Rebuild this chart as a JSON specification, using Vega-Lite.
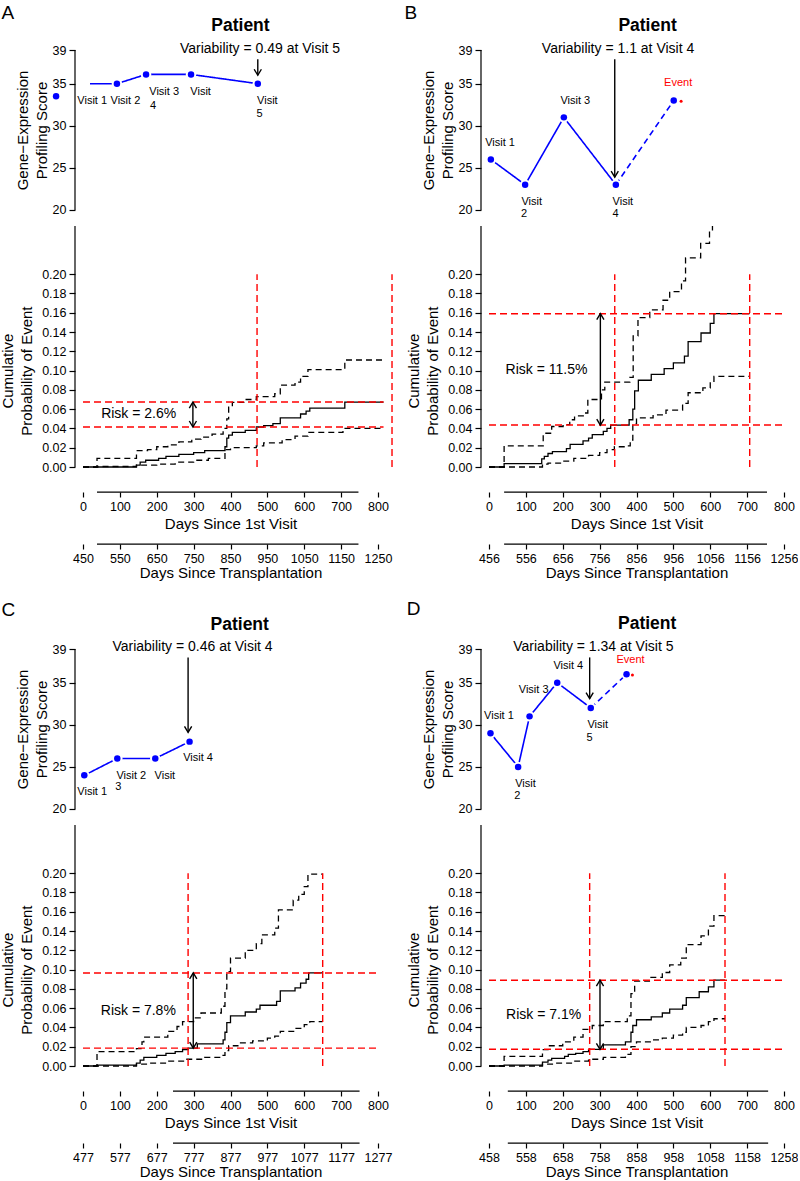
{
"$schema":"https://vega.github.io/schema/vega-lite/v6.json",
"background":"white",
"padding":{"left":0,"top":4,"right":0,"bottom":0},
"config":{"font":"Liberation Sans","view":{"stroke":null},
 "axis":{"grid":false,"domainColor":"black","tickColor":"black","labelColor":"black","titleColor":"black","labelFontSize":12.5,"titleFontSize":15,"titleFontWeight":"normal","tickSize":5,"tickWidth":1.2,"domainWidth":1.2,"labelPadding":2,"labelOverlap":false,"labelFlush":false,"labelBound":false},
 "text":{"color":"black"}},
"datasets":{
"sA":[{"d":0,"p":0,"s":"est"},{"d":145,"p":0.002,"s":"est"},{"d":155,"p":0.005,"s":"est"},{"d":170,"p":0.007,"s":"est"},{"d":205,"p":0.009,"s":"est"},{"d":225,"p":0.011,"s":"est"},{"d":260,"p":0.013,"s":"est"},{"d":300,"p":0.015,"s":"est"},{"d":330,"p":0.017,"s":"est"},{"d":385,"p":0.021,"s":"est"},{"d":390,"p":0.03,"s":"est"},{"d":395,"p":0.033,"s":"est"},{"d":405,"p":0.036,"s":"est"},{"d":440,"p":0.038,"s":"est"},{"d":470,"p":0.0415,"s":"est"},{"d":490,"p":0.043,"s":"est"},{"d":515,"p":0.045,"s":"est"},{"d":535,"p":0.051,"s":"est"},{"d":590,"p":0.055,"s":"est"},{"d":605,"p":0.058,"s":"est"},{"d":615,"p":0.061,"s":"est"},{"d":710,"p":0.0674,"s":"est"},{"d":815,"p":0.0674,"s":"est"},
 {"d":0,"p":0,"s":"hi"},{"d":38,"p":0.009,"s":"hi"},{"d":145,"p":0.017,"s":"hi"},{"d":175,"p":0.018,"s":"hi"},{"d":200,"p":0.021,"s":"hi"},{"d":230,"p":0.023,"s":"hi"},{"d":260,"p":0.026,"s":"hi"},{"d":295,"p":0.029,"s":"hi"},{"d":320,"p":0.031,"s":"hi"},{"d":350,"p":0.034,"s":"hi"},{"d":380,"p":0.04,"s":"hi"},{"d":390,"p":0.05,"s":"hi"},{"d":395,"p":0.062,"s":"hi"},{"d":405,"p":0.067,"s":"hi"},{"d":440,"p":0.07,"s":"hi"},{"d":470,"p":0.073,"s":"hi"},{"d":520,"p":0.076,"s":"hi"},{"d":535,"p":0.085,"s":"hi"},{"d":575,"p":0.088,"s":"hi"},{"d":590,"p":0.094,"s":"hi"},{"d":610,"p":0.101,"s":"hi"},{"d":710,"p":0.111,"s":"hi"},{"d":815,"p":0.111,"s":"hi"},
 {"d":0,"p":0,"s":"lo"},{"d":40,"p":0.0005,"s":"lo"},{"d":145,"p":0.002,"s":"lo"},{"d":200,"p":0.003,"s":"lo"},{"d":250,"p":0.005,"s":"lo"},{"d":300,"p":0.007,"s":"lo"},{"d":340,"p":0.009,"s":"lo"},{"d":385,"p":0.018,"s":"lo"},{"d":400,"p":0.02,"s":"lo"},{"d":470,"p":0.022,"s":"lo"},{"d":490,"p":0.025,"s":"lo"},{"d":540,"p":0.0285,"s":"lo"},{"d":575,"p":0.032,"s":"lo"},{"d":610,"p":0.036,"s":"lo"},{"d":705,"p":0.04,"s":"lo"},{"d":810,"p":0.04,"s":"lo"}],
"sB":[{"d":0,"p":0,"s":"est"},{"d":41,"p":0.0035,"s":"est"},{"d":143,"p":0.0085,"s":"est"},{"d":150,"p":0.011,"s":"est"},{"d":160,"p":0.014,"s":"est"},{"d":172,"p":0.016,"s":"est"},{"d":210,"p":0.019,"s":"est"},{"d":220,"p":0.0235,"s":"est"},{"d":255,"p":0.027,"s":"est"},{"d":270,"p":0.03,"s":"est"},{"d":280,"p":0.0335,"s":"est"},{"d":310,"p":0.037,"s":"est"},{"d":320,"p":0.04,"s":"est"},{"d":330,"p":0.0435,"s":"est"},{"d":380,"p":0.049,"s":"est"},{"d":390,"p":0.06,"s":"est"},{"d":395,"p":0.079,"s":"est"},{"d":405,"p":0.09,"s":"est"},{"d":440,"p":0.096,"s":"est"},{"d":475,"p":0.102,"s":"est"},{"d":500,"p":0.108,"s":"est"},{"d":530,"p":0.115,"s":"est"},{"d":540,"p":0.13,"s":"est"},{"d":575,"p":0.139,"s":"est"},{"d":600,"p":0.149,"s":"est"},{"d":610,"p":0.159,"s":"est"},{"d":707,"p":0.159,"s":"est"},
 {"d":0,"p":0,"s":"hi"},{"d":41,"p":0.022,"s":"hi"},{"d":147,"p":0.035,"s":"hi"},{"d":170,"p":0.042,"s":"hi"},{"d":201,"p":0.044,"s":"hi"},{"d":219,"p":0.049,"s":"hi"},{"d":232,"p":0.053,"s":"hi"},{"d":259,"p":0.056,"s":"hi"},{"d":268,"p":0.07,"s":"hi"},{"d":305,"p":0.08,"s":"hi"},{"d":314,"p":0.088,"s":"hi"},{"d":382,"p":0.093,"s":"hi"},{"d":391,"p":0.136,"s":"hi"},{"d":404,"p":0.155,"s":"hi"},{"d":436,"p":0.163,"s":"hi"},{"d":472,"p":0.173,"s":"hi"},{"d":490,"p":0.182,"s":"hi"},{"d":522,"p":0.193,"s":"hi"},{"d":533,"p":0.217,"s":"hi"},{"d":574,"p":0.232,"s":"hi"},{"d":598,"p":0.245,"s":"hi"},{"d":606,"p":0.25,"s":"hi"},
 {"d":0,"p":0,"s":"lo"},{"d":145,"p":0.003,"s":"lo"},{"d":160,"p":0.004,"s":"lo"},{"d":200,"p":0.006,"s":"lo"},{"d":230,"p":0.009,"s":"lo"},{"d":270,"p":0.012,"s":"lo"},{"d":300,"p":0.015,"s":"lo"},{"d":320,"p":0.018,"s":"lo"},{"d":340,"p":0.021,"s":"lo"},{"d":370,"p":0.022,"s":"lo"},{"d":383,"p":0.028,"s":"lo"},{"d":390,"p":0.045,"s":"lo"},{"d":400,"p":0.051,"s":"lo"},{"d":445,"p":0.054,"s":"lo"},{"d":480,"p":0.059,"s":"lo"},{"d":525,"p":0.066,"s":"lo"},{"d":540,"p":0.077,"s":"lo"},{"d":580,"p":0.082,"s":"lo"},{"d":600,"p":0.088,"s":"lo"},{"d":610,"p":0.094,"s":"lo"},{"d":707,"p":0.094,"s":"lo"}],
"sC":[{"d":0,"p":0,"s":"est"},{"d":38,"p":0.001,"s":"est"},{"d":145,"p":0.003,"s":"est"},{"d":155,"p":0.006,"s":"est"},{"d":165,"p":0.009,"s":"est"},{"d":200,"p":0.011,"s":"est"},{"d":225,"p":0.013,"s":"est"},{"d":250,"p":0.015,"s":"est"},{"d":270,"p":0.017,"s":"est"},{"d":285,"p":0.0185,"s":"est"},{"d":310,"p":0.023,"s":"est"},{"d":380,"p":0.027,"s":"est"},{"d":385,"p":0.035,"s":"est"},{"d":390,"p":0.045,"s":"est"},{"d":400,"p":0.052,"s":"est"},{"d":440,"p":0.056,"s":"est"},{"d":470,"p":0.059,"s":"est"},{"d":480,"p":0.063,"s":"est"},{"d":525,"p":0.067,"s":"est"},{"d":535,"p":0.078,"s":"est"},{"d":575,"p":0.081,"s":"est"},{"d":590,"p":0.086,"s":"est"},{"d":605,"p":0.09,"s":"est"},{"d":612,"p":0.0965,"s":"est"},{"d":650,"p":0.0965,"s":"est"},
 {"d":0,"p":0,"s":"hi"},{"d":38,"p":0.015,"s":"hi"},{"d":145,"p":0.018,"s":"hi"},{"d":160,"p":0.025,"s":"hi"},{"d":165,"p":0.03,"s":"hi"},{"d":230,"p":0.036,"s":"hi"},{"d":255,"p":0.041,"s":"hi"},{"d":270,"p":0.046,"s":"hi"},{"d":300,"p":0.05,"s":"hi"},{"d":320,"p":0.055,"s":"hi"},{"d":375,"p":0.062,"s":"hi"},{"d":385,"p":0.08,"s":"hi"},{"d":390,"p":0.098,"s":"hi"},{"d":400,"p":0.112,"s":"hi"},{"d":440,"p":0.12,"s":"hi"},{"d":470,"p":0.127,"s":"hi"},{"d":485,"p":0.136,"s":"hi"},{"d":520,"p":0.143,"s":"hi"},{"d":530,"p":0.162,"s":"hi"},{"d":570,"p":0.172,"s":"hi"},{"d":585,"p":0.178,"s":"hi"},{"d":600,"p":0.186,"s":"hi"},{"d":610,"p":0.199,"s":"hi"},{"d":650,"p":0.199,"s":"hi"},
 {"d":0,"p":0,"s":"lo"},{"d":145,"p":0.002,"s":"lo"},{"d":180,"p":0.003,"s":"lo"},{"d":230,"p":0.005,"s":"lo"},{"d":280,"p":0.007,"s":"lo"},{"d":330,"p":0.009,"s":"lo"},{"d":375,"p":0.011,"s":"lo"},{"d":385,"p":0.016,"s":"lo"},{"d":395,"p":0.021,"s":"lo"},{"d":420,"p":0.024,"s":"lo"},{"d":460,"p":0.026,"s":"lo"},{"d":500,"p":0.029,"s":"lo"},{"d":520,"p":0.031,"s":"lo"},{"d":535,"p":0.036,"s":"lo"},{"d":575,"p":0.039,"s":"lo"},{"d":600,"p":0.043,"s":"lo"},{"d":615,"p":0.046,"s":"lo"},{"d":650,"p":0.046,"s":"lo"}],
"sD":[{"d":0,"p":0,"s":"est"},{"d":41,"p":0.001,"s":"est"},{"d":145,"p":0.004,"s":"est"},{"d":160,"p":0.006,"s":"est"},{"d":170,"p":0.008,"s":"est"},{"d":205,"p":0.01,"s":"est"},{"d":215,"p":0.012,"s":"est"},{"d":235,"p":0.013,"s":"est"},{"d":255,"p":0.015,"s":"est"},{"d":270,"p":0.0173,"s":"est"},{"d":310,"p":0.022,"s":"est"},{"d":370,"p":0.025,"s":"est"},{"d":385,"p":0.035,"s":"est"},{"d":390,"p":0.042,"s":"est"},{"d":400,"p":0.048,"s":"est"},{"d":440,"p":0.051,"s":"est"},{"d":470,"p":0.055,"s":"est"},{"d":490,"p":0.059,"s":"est"},{"d":525,"p":0.063,"s":"est"},{"d":535,"p":0.071,"s":"est"},{"d":570,"p":0.077,"s":"est"},{"d":595,"p":0.082,"s":"est"},{"d":610,"p":0.089,"s":"est"},{"d":640,"p":0.089,"s":"est"},
 {"d":0,"p":0,"s":"hi"},{"d":41,"p":0.01,"s":"hi"},{"d":145,"p":0.017,"s":"hi"},{"d":160,"p":0.021,"s":"hi"},{"d":200,"p":0.025,"s":"hi"},{"d":230,"p":0.03,"s":"hi"},{"d":255,"p":0.038,"s":"hi"},{"d":280,"p":0.042,"s":"hi"},{"d":310,"p":0.046,"s":"hi"},{"d":375,"p":0.052,"s":"hi"},{"d":385,"p":0.075,"s":"hi"},{"d":395,"p":0.088,"s":"hi"},{"d":435,"p":0.092,"s":"hi"},{"d":470,"p":0.097,"s":"hi"},{"d":490,"p":0.105,"s":"hi"},{"d":520,"p":0.112,"s":"hi"},{"d":535,"p":0.126,"s":"hi"},{"d":575,"p":0.135,"s":"hi"},{"d":595,"p":0.145,"s":"hi"},{"d":610,"p":0.156,"s":"hi"},{"d":640,"p":0.156,"s":"hi"},
 {"d":0,"p":0,"s":"lo"},{"d":145,"p":0.002,"s":"lo"},{"d":180,"p":0.003,"s":"lo"},{"d":230,"p":0.005,"s":"lo"},{"d":270,"p":0.007,"s":"lo"},{"d":310,"p":0.009,"s":"lo"},{"d":370,"p":0.012,"s":"lo"},{"d":385,"p":0.02,"s":"lo"},{"d":400,"p":0.025,"s":"lo"},{"d":440,"p":0.027,"s":"lo"},{"d":470,"p":0.029,"s":"lo"},{"d":500,"p":0.032,"s":"lo"},{"d":525,"p":0.035,"s":"lo"},{"d":535,"p":0.04,"s":"lo"},{"d":575,"p":0.042,"s":"lo"},{"d":595,"p":0.046,"s":"lo"},{"d":610,"p":0.049,"s":"lo"},{"d":640,"p":0.049,"s":"lo"}]
},
"concat":[
{"width":295,"height":417,"resolve":{"scale":{"x":"independent","y":"independent","strokeDash":"independent"}},
 "layer":[
  {"layer":[
    {"data":{"values":[{"d":19,"v":35,"seg":"obs"},{"d":92,"v":35,"seg":"obs"},{"d":171,"v":36.1,"seg":"obs"},{"d":293,"v":36.1,"seg":"obs"},{"d":474,"v":35,"seg":"obs"}]},"mark":{"type":"line","color":"#0000ff","strokeWidth":1.6},"encoding":{"x":{"field":"d","type":"quantitative","scale":{"domain":[0,800],"nice":false,"zero":false},"axis":null},"y":{"field":"v","type":"quantitative","scale":{"domain":[-10.519,39],"nice":false,"zero":false},"axis":null},"strokeDash":{"field":"seg","type":"nominal","scale":{"domain":["obs","event"],"range":[[1,0],[6,4]]},"legend":null}}},
    {"data":{"values":[{"d":-73,"v":33.5},{"d":92,"v":35},{"d":171,"v":36.1},{"d":293,"v":36.1},{"d":474,"v":35}]},"mark":{"type":"circle","color":"white","size":110,"opacity":1},"encoding":{"x":{"field":"d","type":"quantitative","axis":null},"y":{"field":"v","type":"quantitative","axis":null}}},
    {"data":{"values":[{"d":-73,"v":33.5},{"d":92,"v":35},{"d":171,"v":36.1},{"d":293,"v":36.1},{"d":474,"v":35}]},"mark":{"type":"circle","color":"#0000ff","size":42,"opacity":1},"encoding":{"x":{"field":"d","type":"quantitative","axis":null},"y":{"field":"v","type":"quantitative","axis":null}}},
    {"data":{"values":[{"d":25,"v":32.94,"t":"Visit 1","k":"visit"},{"d":115,"v":32.94,"t":"Visit 2","k":"visit"},{"d":220,"v":34.0,"t":"Visit 3","k":"visit"},{"d":190,"v":32.3,"t":"4","k":"visit"},{"d":319,"v":34.0,"t":"Visit","k":"visit"},{"d":500,"v":32.94,"t":"Visit","k":"visit"},{"d":479,"v":31.4,"t":"5","k":"visit"}]},"mark":{"type":"text","fontSize":11,"baseline":"middle"},"encoding":{"x":{"field":"d","type":"quantitative","axis":null},"y":{"field":"v","type":"quantitative","axis":null},"text":{"field":"t"},"color":{"field":"k","type":"nominal","scale":{"domain":["visit","event"],"range":["black","#ff0000"]},"legend":null}}},
    {"data":{"values":[{"d":480,"v":39.1,"t":"Variability = 0.49 at Visit 5"}]},"mark":{"type":"text","fontSize":14,"baseline":"middle"},"encoding":{"x":{"field":"d","type":"quantitative","axis":null},"y":{"field":"v","type":"quantitative","axis":null},"text":{"field":"t"}}},
    {"data":{"values":[{"d":474,"v":37.9,"v2":36.0}]},"mark":{"type":"rule","color":"black","strokeWidth":1.4},"encoding":{"x":{"field":"d","type":"quantitative","axis":null},"y":{"field":"v","type":"quantitative","axis":null},"y2":{"field":"v2"}}},
    {"data":{"values":[{"d":474,"v":37.9,"v2":36.0}]},"mark":{"type":"point","shape":"M-0.6,-1L0,0L0.6,-1","filled":false,"color":"black","strokeWidth":1.4,"size":144,"opacity":1},"encoding":{"x":{"field":"d","type":"quantitative","axis":null},"y":{"field":"v2","type":"quantitative","axis":null}}},
    {"data":{"values":[{"d":427,"v":41.85,"t":"Patient"}]},"mark":{"type":"text","fontSize":17.5,"fontWeight":"bold","baseline":"middle"},"encoding":{"x":{"field":"d","type":"quantitative","axis":null},"y":{"field":"v","type":"quantitative","axis":null},"text":{"field":"t"}}},
    {"data":{"values":[{"d":-221,"v":43.35,"t":"A"}]},"mark":{"type":"text","fontSize":19,"align":"left","baseline":"middle"},"encoding":{"x":{"field":"d","type":"quantitative","axis":null},"y":{"field":"v","type":"quantitative","axis":null},"text":{"field":"t"}}}
  ]},
  {"layer":[
    {"data":{"name":"sA"},"mark":{"type":"line","interpolate":"step-after","color":"black","strokeWidth":1.3},"encoding":{"x":{"field":"d","type":"quantitative","scale":{"domain":[0,800],"nice":false,"zero":false},"axis":null},"y":{"field":"p","type":"quantitative","scale":{"domain":[0,0.43257],"nice":false,"zero":false},"axis":null},"strokeDash":{"field":"s","type":"nominal","scale":{"domain":["est","lo","hi"],"range":[[1,0],[6,4],[6,4]]},"legend":null}}},
    {"data":{"values":[{"d":0,"d2":815,"p":0.0674},{"d":0,"d2":815,"p":0.0415}]},"mark":{"type":"rule","color":"#ff0000","strokeWidth":1.4,"strokeDash":[7,4]},"encoding":{"x":{"field":"d","type":"quantitative","axis":null},"x2":{"field":"d2"},"y":{"field":"p","type":"quantitative","axis":null}}},
    {"data":{"values":[{"d":472},{"d":838}]},"mark":{"type":"rule","color":"#ff0000","strokeWidth":1.4,"strokeDash":[7,4]},"encoding":{"x":{"field":"d","type":"quantitative","axis":null},"y":{"datum":0,"type":"quantitative","axis":null},"y2":{"datum":0.2}}},
    {"data":{"values":[{"d":298,"p":0.0415,"p2":0.0674}]},"mark":{"type":"rule","color":"black","strokeWidth":1.4},"encoding":{"x":{"field":"d","type":"quantitative","axis":null},"y":{"field":"p","type":"quantitative","axis":null},"y2":{"field":"p2"}}},
    {"data":{"values":[{"d":298,"p":0.0415,"p2":0.0674}]},"mark":{"type":"point","shape":"M-0.6,-1L0,0L0.6,-1","filled":false,"color":"black","strokeWidth":1.4,"size":144,"opacity":1},"encoding":{"x":{"field":"d","type":"quantitative","axis":null},"y":{"field":"p","type":"quantitative","axis":null}}},
    {"data":{"values":[{"d":298,"p":0.0415,"p2":0.0674}]},"mark":{"type":"point","shape":"M-0.6,1L0,0L0.6,1","filled":false,"color":"black","strokeWidth":1.4,"size":144,"opacity":1},"encoding":{"x":{"field":"d","type":"quantitative","axis":null},"y":{"field":"p2","type":"quantitative","axis":null}}},
    {"data":{"values":[{"d":151,"p":0.055,"t":"Risk = 2.6%"}]},"mark":{"type":"text","fontSize":14,"baseline":"middle"},"encoding":{"x":{"field":"d","type":"quantitative","axis":null},"y":{"field":"p","type":"quantitative","axis":null},"text":{"field":"t"}}}
  ]},
  {"data":{"values":[{}]},"mark":{"type":"rule","color":"black","strokeWidth":1.2},"encoding":{"x":{"datum":-21.7,"type":"quantitative","scale":{"domain":[0,800],"nice":false,"zero":false},"axis":null},"y":{"datum":20,"type":"quantitative","scale":{"domain":[-10.519,39],"nice":false,"zero":false},"axis":{"orient":"left","domain":false,"offset":8,"tickSize":6,"labelPadding":3,"values":[20,25,30,35,39],"title":["Gene−Expression","Profiling Score"],"titleY":80,"titlePadding":3,"titleLineHeight":19}},"y2":{"datum":39}}},
  {"data":{"values":[{}]},"mark":{"type":"rule","color":"black","strokeWidth":1.2},"encoding":{"x":{"datum":-21.7,"type":"quantitative","scale":{"domain":[0,800],"nice":false,"zero":false},"axis":null},"y":{"datum":0,"type":"quantitative","scale":{"domain":[0,0.43257],"nice":false,"zero":false},"axis":{"orient":"left","domain":false,"offset":8,"tickSize":6,"labelPadding":3,"values":[0,0.02,0.04,0.06,0.08,0.1,0.12,0.14,0.16,0.18,0.2],"format":".2f","title":["Cumulative","Probability of Event"],"titleY":320.6,"titlePadding":7,"titleLineHeight":19}},"y2":{"datum":0.25}}},
  {"data":{"values":[{}]},"mark":{"type":"rule","color":"black","strokeWidth":1.2},"encoding":{"x":{"datum":38,"type":"quantitative","scale":{"domain":[0,800],"nice":false,"zero":false},"axis":{"orient":"bottom","offset":25,"domain":false,"format":"d","values":[0,100,200,300,400,500,600,700,800],"title":"Days Since 1st Visit","labelPadding":3,"titlePadding":4}},"x2":{"datum":747},"y":{"datum":-0.026,"type":"quantitative","scale":{"domain":[0,0.43257],"nice":false,"zero":false},"axis":null}}},
  {"data":{"values":[{}]},"mark":{"type":"rule","color":"black","strokeWidth":1.2},"encoding":{"x":{"datum":488,"type":"quantitative","scale":{"domain":[450,1250],"nice":false,"zero":false},"axis":{"orient":"bottom","offset":77,"domain":false,"format":"d","values":[450,550,650,750,850,950,1050,1150,1250],"title":"Days Since Transplantation","labelPadding":3,"titlePadding":1}},"x2":{"datum":1197},"y":{"datum":-0.08,"type":"quantitative","scale":{"domain":[0,0.43257],"nice":false,"zero":false},"axis":null}}}
 ]},
{"width":295,"height":417,"resolve":{"scale":{"x":"independent","y":"independent","strokeDash":"independent"}},
 "layer":[
  {"layer":[
    {"data":{"values":[{"d":5,"v":26,"seg":"obs"},{"d":98,"v":23,"seg":"obs"},{"d":203,"v":31,"seg":"obs"},{"d":344,"v":23,"seg":"obs"},{"d":344,"v":23,"seg":"event"},{"d":501,"v":33,"seg":"event"}]},"mark":{"type":"line","color":"#0000ff","strokeWidth":1.6},"encoding":{"x":{"field":"d","type":"quantitative","scale":{"domain":[0,800],"nice":false,"zero":false},"axis":null},"y":{"field":"v","type":"quantitative","scale":{"domain":[-10.519,39],"nice":false,"zero":false},"axis":null},"strokeDash":{"field":"seg","type":"nominal","scale":{"domain":["obs","event"],"range":[[1,0],[6,4]]},"legend":null}}},
    {"data":{"values":[{"d":5,"v":26},{"d":98,"v":23},{"d":203,"v":31},{"d":344,"v":23},{"d":501,"v":33}]},"mark":{"type":"circle","color":"white","size":110,"opacity":1},"encoding":{"x":{"field":"d","type":"quantitative","axis":null},"y":{"field":"v","type":"quantitative","axis":null}}},
    {"data":{"values":[{"d":5,"v":26},{"d":98,"v":23},{"d":203,"v":31},{"d":344,"v":23},{"d":501,"v":33}]},"mark":{"type":"circle","color":"#0000ff","size":42,"opacity":1},"encoding":{"x":{"field":"d","type":"quantitative","axis":null},"y":{"field":"v","type":"quantitative","axis":null}}},
    {"data":{"values":[{"d":521,"v":32.9}]},"mark":{"type":"circle","color":"#ff0000","size":9,"opacity":1},"encoding":{"x":{"field":"d","type":"quantitative","axis":null},"y":{"field":"v","type":"quantitative","axis":null}}},
    {"data":{"values":[{"d":30,"v":28.0,"t":"Visit 1","k":"visit"},{"d":116,"v":20.95,"t":"Visit","k":"visit"},{"d":95,"v":19.5,"t":"2","k":"visit"},{"d":234,"v":33.0,"t":"Visit 3","k":"visit"},{"d":363,"v":20.95,"t":"Visit","k":"visit"},{"d":343,"v":19.5,"t":"4","k":"visit"},{"d":513,"v":35.1,"t":"Event","k":"event"}]},"mark":{"type":"text","fontSize":11,"baseline":"middle"},"encoding":{"x":{"field":"d","type":"quantitative","axis":null},"y":{"field":"v","type":"quantitative","axis":null},"text":{"field":"t"},"color":{"field":"k","type":"nominal","scale":{"domain":["visit","event"],"range":["black","#ff0000"]},"legend":null}}},
    {"data":{"values":[{"d":350,"v":39.08,"t":"Variability = 1.1 at Visit 4"}]},"mark":{"type":"text","fontSize":14,"baseline":"middle"},"encoding":{"x":{"field":"d","type":"quantitative","axis":null},"y":{"field":"v","type":"quantitative","axis":null},"text":{"field":"t"}}},
    {"data":{"values":[{"d":341,"v":37.9,"v2":23.9}]},"mark":{"type":"rule","color":"black","strokeWidth":1.4},"encoding":{"x":{"field":"d","type":"quantitative","axis":null},"y":{"field":"v","type":"quantitative","axis":null},"y2":{"field":"v2"}}},
    {"data":{"values":[{"d":341,"v":37.9,"v2":23.9}]},"mark":{"type":"point","shape":"M-0.6,-1L0,0L0.6,-1","filled":false,"color":"black","strokeWidth":1.4,"size":144,"opacity":1},"encoding":{"x":{"field":"d","type":"quantitative","axis":null},"y":{"field":"v2","type":"quantitative","axis":null}}},
    {"data":{"values":[{"d":430,"v":41.85,"t":"Patient"}]},"mark":{"type":"text","fontSize":17.5,"fontWeight":"bold","baseline":"middle"},"encoding":{"x":{"field":"d","type":"quantitative","axis":null},"y":{"field":"v","type":"quantitative","axis":null},"text":{"field":"t"}}},
    {"data":{"values":[{"d":-229,"v":43.35,"t":"B"}]},"mark":{"type":"text","fontSize":19,"align":"left","baseline":"middle"},"encoding":{"x":{"field":"d","type":"quantitative","axis":null},"y":{"field":"v","type":"quantitative","axis":null},"text":{"field":"t"}}}
  ]},
  {"layer":[
    {"data":{"name":"sB"},"mark":{"type":"line","interpolate":"step-after","color":"black","strokeWidth":1.3},"encoding":{"x":{"field":"d","type":"quantitative","scale":{"domain":[0,800],"nice":false,"zero":false},"axis":null},"y":{"field":"p","type":"quantitative","scale":{"domain":[0,0.43257],"nice":false,"zero":false},"axis":null},"strokeDash":{"field":"s","type":"nominal","scale":{"domain":["est","lo","hi"],"range":[[1,0],[6,4],[6,4]]},"legend":null}}},
    {"data":{"values":[{"d":0,"d2":800,"p":0.159},{"d":0,"d2":800,"p":0.0435}]},"mark":{"type":"rule","color":"#ff0000","strokeWidth":1.4,"strokeDash":[7,4]},"encoding":{"x":{"field":"d","type":"quantitative","axis":null},"x2":{"field":"d2"},"y":{"field":"p","type":"quantitative","axis":null}}},
    {"data":{"values":[{"d":341},{"d":707}]},"mark":{"type":"rule","color":"#ff0000","strokeWidth":1.4,"strokeDash":[7,4]},"encoding":{"x":{"field":"d","type":"quantitative","axis":null},"y":{"datum":0,"type":"quantitative","axis":null},"y2":{"datum":0.2}}},
    {"data":{"values":[{"d":302,"p":0.0435,"p2":0.159}]},"mark":{"type":"rule","color":"black","strokeWidth":1.4},"encoding":{"x":{"field":"d","type":"quantitative","axis":null},"y":{"field":"p","type":"quantitative","axis":null},"y2":{"field":"p2"}}},
    {"data":{"values":[{"d":302,"p":0.0435,"p2":0.159}]},"mark":{"type":"point","shape":"M-0.6,-1L0,0L0.6,-1","filled":false,"color":"black","strokeWidth":1.4,"size":144,"opacity":1},"encoding":{"x":{"field":"d","type":"quantitative","axis":null},"y":{"field":"p","type":"quantitative","axis":null}}},
    {"data":{"values":[{"d":302,"p":0.0435,"p2":0.159}]},"mark":{"type":"point","shape":"M-0.6,1L0,0L0.6,1","filled":false,"color":"black","strokeWidth":1.4,"size":144,"opacity":1},"encoding":{"x":{"field":"d","type":"quantitative","axis":null},"y":{"field":"p2","type":"quantitative","axis":null}}},
    {"data":{"values":[{"d":156,"p":0.101,"t":"Risk = 11.5%"}]},"mark":{"type":"text","fontSize":14,"baseline":"middle"},"encoding":{"x":{"field":"d","type":"quantitative","axis":null},"y":{"field":"p","type":"quantitative","axis":null},"text":{"field":"t"}}}
  ]},
  {"data":{"values":[{}]},"mark":{"type":"rule","color":"black","strokeWidth":1.2},"encoding":{"x":{"datum":-21.7,"type":"quantitative","scale":{"domain":[0,800],"nice":false,"zero":false},"axis":null},"y":{"datum":20,"type":"quantitative","scale":{"domain":[-10.519,39],"nice":false,"zero":false},"axis":{"orient":"left","domain":false,"offset":8,"tickSize":6,"labelPadding":3,"values":[20,25,30,35,39],"title":["Gene−Expression","Profiling Score"],"titleY":80,"titlePadding":3,"titleLineHeight":19}},"y2":{"datum":39}}},
  {"data":{"values":[{}]},"mark":{"type":"rule","color":"black","strokeWidth":1.2},"encoding":{"x":{"datum":-21.7,"type":"quantitative","scale":{"domain":[0,800],"nice":false,"zero":false},"axis":null},"y":{"datum":0,"type":"quantitative","scale":{"domain":[0,0.43257],"nice":false,"zero":false},"axis":{"orient":"left","domain":false,"offset":8,"tickSize":6,"labelPadding":3,"values":[0,0.02,0.04,0.06,0.08,0.1,0.12,0.14,0.16,0.18,0.2],"format":".2f","title":["Cumulative","Probability of Event"],"titleY":320.6,"titlePadding":7,"titleLineHeight":19}},"y2":{"datum":0.25}}},
  {"data":{"values":[{}]},"mark":{"type":"rule","color":"black","strokeWidth":1.2},"encoding":{"x":{"datum":41,"type":"quantitative","scale":{"domain":[0,800],"nice":false,"zero":false},"axis":{"orient":"bottom","offset":25,"domain":false,"format":"d","values":[0,100,200,300,400,500,600,700,800],"title":"Days Since 1st Visit","labelPadding":3,"titlePadding":4}},"x2":{"datum":754},"y":{"datum":-0.026,"type":"quantitative","scale":{"domain":[0,0.43257],"nice":false,"zero":false},"axis":null}}},
  {"data":{"values":[{}]},"mark":{"type":"rule","color":"black","strokeWidth":1.2},"encoding":{"x":{"datum":497,"type":"quantitative","scale":{"domain":[456,1256],"nice":false,"zero":false},"axis":{"orient":"bottom","offset":77,"domain":false,"format":"d","values":[456,556,656,756,856,956,1056,1156,1256],"title":"Days Since Transplantation","labelPadding":3,"titlePadding":1}},"x2":{"datum":1210},"y":{"datum":-0.08,"type":"quantitative","scale":{"domain":[0,0.43257],"nice":false,"zero":false},"axis":null}}}
 ]},
{"width":295,"height":417,"resolve":{"scale":{"x":"independent","y":"independent","strokeDash":"independent"}},
 "layer":[
  {"layer":[
    {"data":{"values":[{"d":3.5,"v":24,"seg":"obs"},{"d":93,"v":26,"seg":"obs"},{"d":196,"v":26,"seg":"obs"},{"d":289,"v":28,"seg":"obs"}]},"mark":{"type":"line","color":"#0000ff","strokeWidth":1.6},"encoding":{"x":{"field":"d","type":"quantitative","scale":{"domain":[0,800],"nice":false,"zero":false},"axis":null},"y":{"field":"v","type":"quantitative","scale":{"domain":[-10.519,39],"nice":false,"zero":false},"axis":null},"strokeDash":{"field":"seg","type":"nominal","scale":{"domain":["obs","event"],"range":[[1,0],[6,4]]},"legend":null}}},
    {"data":{"values":[{"d":3.5,"v":24},{"d":93,"v":26},{"d":196,"v":26},{"d":289,"v":28}]},"mark":{"type":"circle","color":"white","size":110,"opacity":1},"encoding":{"x":{"field":"d","type":"quantitative","axis":null},"y":{"field":"v","type":"quantitative","axis":null}}},
    {"data":{"values":[{"d":3.5,"v":24},{"d":93,"v":26},{"d":196,"v":26},{"d":289,"v":28}]},"mark":{"type":"circle","color":"#0000ff","size":42,"opacity":1},"encoding":{"x":{"field":"d","type":"quantitative","axis":null},"y":{"field":"v","type":"quantitative","axis":null}}},
    {"data":{"values":[{"d":25,"v":22.06,"t":"Visit 1","k":"visit"},{"d":131,"v":23.96,"t":"Visit 2","k":"visit"},{"d":96,"v":22.57,"t":"3","k":"visit"},{"d":222,"v":23.96,"t":"Visit","k":"visit"},{"d":312,"v":26.05,"t":"Visit 4","k":"visit"}]},"mark":{"type":"text","fontSize":11,"baseline":"middle"},"encoding":{"x":{"field":"d","type":"quantitative","axis":null},"y":{"field":"v","type":"quantitative","axis":null},"text":{"field":"t"},"color":{"field":"k","type":"nominal","scale":{"domain":["visit","event"],"range":["black","#ff0000"]},"legend":null}}},
    {"data":{"values":[{"d":297,"v":39.2,"t":"Variability = 0.46 at Visit 4"}]},"mark":{"type":"text","fontSize":14,"baseline":"middle"},"encoding":{"x":{"field":"d","type":"quantitative","axis":null},"y":{"field":"v","type":"quantitative","axis":null},"text":{"field":"t"}}},
    {"data":{"values":[{"d":285,"v":38.0,"v2":29.1}]},"mark":{"type":"rule","color":"black","strokeWidth":1.4},"encoding":{"x":{"field":"d","type":"quantitative","axis":null},"y":{"field":"v","type":"quantitative","axis":null},"y2":{"field":"v2"}}},
    {"data":{"values":[{"d":285,"v":38.0,"v2":29.1}]},"mark":{"type":"point","shape":"M-0.6,-1L0,0L0.6,-1","filled":false,"color":"black","strokeWidth":1.4,"size":144,"opacity":1},"encoding":{"x":{"field":"d","type":"quantitative","axis":null},"y":{"field":"v2","type":"quantitative","axis":null}}},
    {"data":{"values":[{"d":425,"v":41.9,"t":"Patient"}]},"mark":{"type":"text","fontSize":17.5,"fontWeight":"bold","baseline":"middle"},"encoding":{"x":{"field":"d","type":"quantitative","axis":null},"y":{"field":"v","type":"quantitative","axis":null},"text":{"field":"t"}}},
    {"data":{"values":[{"d":-221,"v":43.6,"t":"C"}]},"mark":{"type":"text","fontSize":19,"align":"left","baseline":"middle"},"encoding":{"x":{"field":"d","type":"quantitative","axis":null},"y":{"field":"v","type":"quantitative","axis":null},"text":{"field":"t"}}}
  ]},
  {"layer":[
    {"data":{"name":"sC"},"mark":{"type":"line","interpolate":"step-after","color":"black","strokeWidth":1.3},"encoding":{"x":{"field":"d","type":"quantitative","scale":{"domain":[0,800],"nice":false,"zero":false},"axis":null},"y":{"field":"p","type":"quantitative","scale":{"domain":[0,0.43257],"nice":false,"zero":false},"axis":null},"strokeDash":{"field":"s","type":"nominal","scale":{"domain":["est","lo","hi"],"range":[[1,0],[6,4],[6,4]]},"legend":null}}},
    {"data":{"values":[{"d":0,"d2":795,"p":0.0965},{"d":0,"d2":795,"p":0.0185}]},"mark":{"type":"rule","color":"#ff0000","strokeWidth":1.4,"strokeDash":[7,4]},"encoding":{"x":{"field":"d","type":"quantitative","axis":null},"x2":{"field":"d2"},"y":{"field":"p","type":"quantitative","axis":null}}},
    {"data":{"values":[{"d":285},{"d":650}]},"mark":{"type":"rule","color":"#ff0000","strokeWidth":1.4,"strokeDash":[7,4]},"encoding":{"x":{"field":"d","type":"quantitative","axis":null},"y":{"datum":0,"type":"quantitative","axis":null},"y2":{"datum":0.2}}},
    {"data":{"values":[{"d":299,"p":0.0185,"p2":0.0965}]},"mark":{"type":"rule","color":"black","strokeWidth":1.4},"encoding":{"x":{"field":"d","type":"quantitative","axis":null},"y":{"field":"p","type":"quantitative","axis":null},"y2":{"field":"p2"}}},
    {"data":{"values":[{"d":299,"p":0.0185,"p2":0.0965}]},"mark":{"type":"point","shape":"M-0.6,-1L0,0L0.6,-1","filled":false,"color":"black","strokeWidth":1.4,"size":144,"opacity":1},"encoding":{"x":{"field":"d","type":"quantitative","axis":null},"y":{"field":"p","type":"quantitative","axis":null}}},
    {"data":{"values":[{"d":299,"p":0.0185,"p2":0.0965}]},"mark":{"type":"point","shape":"M-0.6,1L0,0L0.6,1","filled":false,"color":"black","strokeWidth":1.4,"size":144,"opacity":1},"encoding":{"x":{"field":"d","type":"quantitative","axis":null},"y":{"field":"p2","type":"quantitative","axis":null}}},
    {"data":{"values":[{"d":150,"p":0.057,"t":"Risk = 7.8%"}]},"mark":{"type":"text","fontSize":14,"baseline":"middle"},"encoding":{"x":{"field":"d","type":"quantitative","axis":null},"y":{"field":"p","type":"quantitative","axis":null},"text":{"field":"t"}}}
  ]},
  {"data":{"values":[{}]},"mark":{"type":"rule","color":"black","strokeWidth":1.2},"encoding":{"x":{"datum":-21.7,"type":"quantitative","scale":{"domain":[0,800],"nice":false,"zero":false},"axis":null},"y":{"datum":20,"type":"quantitative","scale":{"domain":[-10.519,39],"nice":false,"zero":false},"axis":{"orient":"left","domain":false,"offset":8,"tickSize":6,"labelPadding":3,"values":[20,25,30,35,39],"title":["Gene−Expression","Profiling Score"],"titleY":80,"titlePadding":3,"titleLineHeight":19}},"y2":{"datum":39}}},
  {"data":{"values":[{}]},"mark":{"type":"rule","color":"black","strokeWidth":1.2},"encoding":{"x":{"datum":-21.7,"type":"quantitative","scale":{"domain":[0,800],"nice":false,"zero":false},"axis":null},"y":{"datum":0,"type":"quantitative","scale":{"domain":[0,0.43257],"nice":false,"zero":false},"axis":{"orient":"left","domain":false,"offset":8,"tickSize":6,"labelPadding":3,"values":[0,0.02,0.04,0.06,0.08,0.1,0.12,0.14,0.16,0.18,0.2],"format":".2f","title":["Cumulative","Probability of Event"],"titleY":320.6,"titlePadding":7,"titleLineHeight":19}},"y2":{"datum":0.25}}},
  {"data":{"values":[{}]},"mark":{"type":"rule","color":"black","strokeWidth":1.2},"encoding":{"x":{"datum":244,"type":"quantitative","scale":{"domain":[0,800],"nice":false,"zero":false},"axis":{"orient":"bottom","offset":25,"domain":false,"format":"d","values":[0,100,200,300,400,500,600,700,800],"title":"Days Since 1st Visit","labelPadding":3,"titlePadding":4}},"x2":{"datum":750},"y":{"datum":-0.026,"type":"quantitative","scale":{"domain":[0,0.43257],"nice":false,"zero":false},"axis":null}}},
  {"data":{"values":[{}]},"mark":{"type":"rule","color":"black","strokeWidth":1.2},"encoding":{"x":{"datum":721,"type":"quantitative","scale":{"domain":[477,1277],"nice":false,"zero":false},"axis":{"orient":"bottom","offset":77,"domain":false,"format":"d","values":[477,577,677,777,877,977,1077,1177,1277],"title":"Days Since Transplantation","labelPadding":3,"titlePadding":1}},"x2":{"datum":1227},"y":{"datum":-0.08,"type":"quantitative","scale":{"domain":[0,0.43257],"nice":false,"zero":false},"axis":null}}}
 ]},
{"width":295,"height":417,"resolve":{"scale":{"x":"independent","y":"independent","strokeDash":"independent"}},
 "layer":[
  {"layer":[
    {"data":{"values":[{"d":4,"v":29,"seg":"obs"},{"d":79,"v":25,"seg":"obs"},{"d":110,"v":31,"seg":"obs"},{"d":185,"v":35,"seg":"obs"},{"d":276,"v":32,"seg":"obs"},{"d":276,"v":32,"seg":"event"},{"d":373,"v":36,"seg":"event"}]},"mark":{"type":"line","color":"#0000ff","strokeWidth":1.6},"encoding":{"x":{"field":"d","type":"quantitative","scale":{"domain":[0,800],"nice":false,"zero":false},"axis":null},"y":{"field":"v","type":"quantitative","scale":{"domain":[-10.519,39],"nice":false,"zero":false},"axis":null},"strokeDash":{"field":"seg","type":"nominal","scale":{"domain":["obs","event"],"range":[[1,0],[6,4]]},"legend":null}}},
    {"data":{"values":[{"d":4,"v":29},{"d":79,"v":25},{"d":110,"v":31},{"d":185,"v":35},{"d":276,"v":32},{"d":373,"v":36}]},"mark":{"type":"circle","color":"white","size":110,"opacity":1},"encoding":{"x":{"field":"d","type":"quantitative","axis":null},"y":{"field":"v","type":"quantitative","axis":null}}},
    {"data":{"values":[{"d":4,"v":29},{"d":79,"v":25},{"d":110,"v":31},{"d":185,"v":35},{"d":276,"v":32},{"d":373,"v":36}]},"mark":{"type":"circle","color":"#0000ff","size":42,"opacity":1},"encoding":{"x":{"field":"d","type":"quantitative","axis":null},"y":{"field":"v","type":"quantitative","axis":null}}},
    {"data":{"values":[{"d":389,"v":35.9}]},"mark":{"type":"circle","color":"#ff0000","size":9,"opacity":1},"encoding":{"x":{"field":"d","type":"quantitative","axis":null},"y":{"field":"v","type":"quantitative","axis":null}}},
    {"data":{"values":[{"d":27,"v":31.0,"t":"Visit 1","k":"visit"},{"d":99,"v":23.0,"t":"Visit","k":"visit"},{"d":77,"v":21.5,"t":"2","k":"visit"},{"d":121,"v":34.1,"t":"Visit 3","k":"visit"},{"d":215,"v":37.0,"t":"Visit 4","k":"visit"},{"d":295,"v":30.0,"t":"Visit","k":"visit"},{"d":273,"v":28.4,"t":"5","k":"visit"},{"d":384,"v":37.7,"t":"Event","k":"event"}]},"mark":{"type":"text","fontSize":11,"baseline":"middle"},"encoding":{"x":{"field":"d","type":"quantitative","axis":null},"y":{"field":"v","type":"quantitative","axis":null},"text":{"field":"t"},"color":{"field":"k","type":"nominal","scale":{"domain":["visit","event"],"range":["black","#ff0000"]},"legend":null}}},
    {"data":{"values":[{"d":283,"v":39.2,"t":"Variability = 1.34 at Visit 5"}]},"mark":{"type":"text","fontSize":14,"baseline":"middle"},"encoding":{"x":{"field":"d","type":"quantitative","axis":null},"y":{"field":"v","type":"quantitative","axis":null},"text":{"field":"t"}}},
    {"data":{"values":[{"d":273,"v":38.0,"v2":33.1}]},"mark":{"type":"rule","color":"black","strokeWidth":1.4},"encoding":{"x":{"field":"d","type":"quantitative","axis":null},"y":{"field":"v","type":"quantitative","axis":null},"y2":{"field":"v2"}}},
    {"data":{"values":[{"d":273,"v":38.0,"v2":33.1}]},"mark":{"type":"point","shape":"M-0.6,-1L0,0L0.6,-1","filled":false,"color":"black","strokeWidth":1.4,"size":144,"opacity":1},"encoding":{"x":{"field":"d","type":"quantitative","axis":null},"y":{"field":"v2","type":"quantitative","axis":null}}},
    {"data":{"values":[{"d":429,"v":42.0,"t":"Patient"}]},"mark":{"type":"text","fontSize":17.5,"fontWeight":"bold","baseline":"middle"},"encoding":{"x":{"field":"d","type":"quantitative","axis":null},"y":{"field":"v","type":"quantitative","axis":null},"text":{"field":"t"}}},
    {"data":{"values":[{"d":-223,"v":43.8,"t":"D"}]},"mark":{"type":"text","fontSize":19,"align":"left","baseline":"middle"},"encoding":{"x":{"field":"d","type":"quantitative","axis":null},"y":{"field":"v","type":"quantitative","axis":null},"text":{"field":"t"}}}
  ]},
  {"layer":[
    {"data":{"name":"sD"},"mark":{"type":"line","interpolate":"step-after","color":"black","strokeWidth":1.3},"encoding":{"x":{"field":"d","type":"quantitative","scale":{"domain":[0,800],"nice":false,"zero":false},"axis":null},"y":{"field":"p","type":"quantitative","scale":{"domain":[0,0.43257],"nice":false,"zero":false},"axis":null},"strokeDash":{"field":"s","type":"nominal","scale":{"domain":["est","lo","hi"],"range":[[1,0],[6,4],[6,4]]},"legend":null}}},
    {"data":{"values":[{"d":0,"d2":800,"p":0.089},{"d":0,"d2":800,"p":0.0173}]},"mark":{"type":"rule","color":"#ff0000","strokeWidth":1.4,"strokeDash":[7,4]},"encoding":{"x":{"field":"d","type":"quantitative","axis":null},"x2":{"field":"d2"},"y":{"field":"p","type":"quantitative","axis":null}}},
    {"data":{"values":[{"d":273},{"d":640}]},"mark":{"type":"rule","color":"#ff0000","strokeWidth":1.4,"strokeDash":[7,4]},"encoding":{"x":{"field":"d","type":"quantitative","axis":null},"y":{"datum":0,"type":"quantitative","axis":null},"y2":{"datum":0.2}}},
    {"data":{"values":[{"d":301,"p":0.0173,"p2":0.089}]},"mark":{"type":"rule","color":"black","strokeWidth":1.4},"encoding":{"x":{"field":"d","type":"quantitative","axis":null},"y":{"field":"p","type":"quantitative","axis":null},"y2":{"field":"p2"}}},
    {"data":{"values":[{"d":301,"p":0.0173,"p2":0.089}]},"mark":{"type":"point","shape":"M-0.6,-1L0,0L0.6,-1","filled":false,"color":"black","strokeWidth":1.4,"size":144,"opacity":1},"encoding":{"x":{"field":"d","type":"quantitative","axis":null},"y":{"field":"p","type":"quantitative","axis":null}}},
    {"data":{"values":[{"d":301,"p":0.0173,"p2":0.089}]},"mark":{"type":"point","shape":"M-0.6,1L0,0L0.6,1","filled":false,"color":"black","strokeWidth":1.4,"size":144,"opacity":1},"encoding":{"x":{"field":"d","type":"quantitative","axis":null},"y":{"field":"p2","type":"quantitative","axis":null}}},
    {"data":{"values":[{"d":148,"p":0.053,"t":"Risk = 7.1%"}]},"mark":{"type":"text","fontSize":14,"baseline":"middle"},"encoding":{"x":{"field":"d","type":"quantitative","axis":null},"y":{"field":"p","type":"quantitative","axis":null},"text":{"field":"t"}}}
  ]},
  {"data":{"values":[{}]},"mark":{"type":"rule","color":"black","strokeWidth":1.2},"encoding":{"x":{"datum":-21.7,"type":"quantitative","scale":{"domain":[0,800],"nice":false,"zero":false},"axis":null},"y":{"datum":20,"type":"quantitative","scale":{"domain":[-10.519,39],"nice":false,"zero":false},"axis":{"orient":"left","domain":false,"offset":8,"tickSize":6,"labelPadding":3,"values":[20,25,30,35,39],"title":["Gene−Expression","Profiling Score"],"titleY":80,"titlePadding":3,"titleLineHeight":19}},"y2":{"datum":39}}},
  {"data":{"values":[{}]},"mark":{"type":"rule","color":"black","strokeWidth":1.2},"encoding":{"x":{"datum":-21.7,"type":"quantitative","scale":{"domain":[0,800],"nice":false,"zero":false},"axis":null},"y":{"datum":0,"type":"quantitative","scale":{"domain":[0,0.43257],"nice":false,"zero":false},"axis":{"orient":"left","domain":false,"offset":8,"tickSize":6,"labelPadding":3,"values":[0,0.02,0.04,0.06,0.08,0.1,0.12,0.14,0.16,0.18,0.2],"format":".2f","title":["Cumulative","Probability of Event"],"titleY":320.6,"titlePadding":7,"titleLineHeight":19}},"y2":{"datum":0.25}}},
  {"data":{"values":[{}]},"mark":{"type":"rule","color":"black","strokeWidth":1.2},"encoding":{"x":{"datum":51,"type":"quantitative","scale":{"domain":[0,800],"nice":false,"zero":false},"axis":{"orient":"bottom","offset":25,"domain":false,"format":"d","values":[0,100,200,300,400,500,600,700,800],"title":"Days Since 1st Visit","labelPadding":3,"titlePadding":4}},"x2":{"datum":757},"y":{"datum":-0.026,"type":"quantitative","scale":{"domain":[0,0.43257],"nice":false,"zero":false},"axis":null}}},
  {"data":{"values":[{}]},"mark":{"type":"rule","color":"black","strokeWidth":1.2},"encoding":{"x":{"datum":509,"type":"quantitative","scale":{"domain":[458,1258],"nice":false,"zero":false},"axis":{"orient":"bottom","offset":77,"domain":false,"format":"d","values":[458,558,658,758,858,958,1058,1158,1258],"title":"Days Since Transplantation","labelPadding":3,"titlePadding":1}},"x2":{"datum":1215},"y":{"datum":-0.08,"type":"quantitative","scale":{"domain":[0,0.43257],"nice":false,"zero":false},"axis":null}}}
 ]}
],
"columns":2,
"spacing":{"row":182,"column":111},
"bounds":"flush"
}
